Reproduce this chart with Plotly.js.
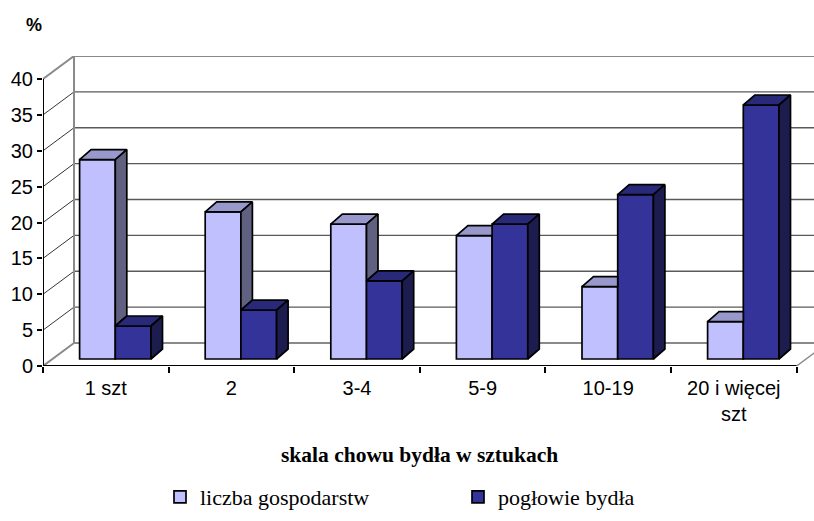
<!DOCTYPE html>
<html>
<head>
<meta charset="utf-8">
<script src="https://cdn.plot.ly/plotly-3.0.1.min.js"></script>
<style>html,body{margin:0;padding:0;background:#fff;}#chart{width:814px;height:521px;}</style>
</head>
<body>
<div id="chart"></div>
<script>
// ---- data ----
const categories = ['1 szt', '2', '3-4', '5-9', '10-19', '20 i więcej<br>szt'];
const liczbaGospodarstw = [27.8, 20.5, 18.8, 17.2, 10.1, 5.2];
const poglowieBydla = [4.6, 6.8, 10.9, 18.8, 22.9, 35.4];
const yTickVals = [0, 5, 10, 15, 20, 25, 30, 35, 40];
const seriesNames = ['liczba gospodarstw', 'pogłowie bydła'];

// ---- geometry (pixel scale of the axes) ----
const W = 814, H = 521;
const mL = 43, mR = 0, mT = 56, mB = 155;
const pxPerCat = 125.6, pxPerUnit = 7.175;
const plotW = W - mL - mR, plotH = H - mT - mB;
const xRange = [-0.5, -0.5 + plotW / pxPerCat];
const yRange = [0, plotH / pxPerUnit];
const ux = px => px / pxPerCat, uy = px => px / pxPerUnit;

const wallDx = ux(31), wallDy = uy(23);     // back wall offset
const barShift = ux(9.5), barBase = uy(7);  // bar plane offset
const barW = ux(35.7);
const depthDx = ux(11.5), depthDy = uy(10); // bar depth
const idx = categories.map((c, i) => i);
const xs = idx.map(i => i + barShift);

const colors = {
  light: {front: '#C0C0FF', top: '#9898CC', side: '#606080'},
  dark:  {front: '#333399', top: '#29297A', side: '#1C1C4E'}
};
const edge = {color: '#000', width: 1.7};
const SANS = 'Arial, Liberation Sans, sans-serif';
const SERIF = 'Liberation Serif, Times New Roman, serif';

// faces
const lightTop = {x: [], y: []}, lightSide = {x: [], y: []};
const darkTop = {x: [], y: []}, darkSide = {x: [], y: []};
function poly(o, pts) { pts.forEach(p => { o.x.push(p[0]); o.y.push(p[1]); }); o.x.push(pts[0][0]); o.y.push(pts[0][1]); o.x.push(null); o.y.push(null); }
idx.forEach(i => {
  const xl = xs[i] - barW, xm = xs[i], xr = xs[i] + barW;
  const L = barBase + liczbaGospodarstw[i], D = barBase + poglowieBydla[i];
  if (D >= L) poly(lightTop, [[xl, L], [xm, L], [xm, L + depthDy], [xl + depthDx, L + depthDy]]);
  else poly(lightTop, [[xl, L], [xm, L], [xm + depthDx, L + depthDy], [xl + depthDx, L + depthDy]]);
  if (L > D) poly(lightSide, [[xm, D], [xm, L], [xm + depthDx, L + depthDy], [xm + depthDx, D + depthDy]]);
  poly(darkTop, [[xm, D], [xr, D], [xr + depthDx, D + depthDy], [xm + depthDx, D + depthDy]]);
  poly(darkSide, [[xr, barBase], [xr, D], [xr + depthDx, D + depthDy], [xr + depthDx, barBase + depthDy]]);
});
function faceTrace(o, color) {
  return {type: 'scatter', mode: 'lines', x: o.x, y: o.y, fill: 'toself', fillcolor: color,
    line: edge, showlegend: false, hoverinfo: 'skip'};
}

const traces = [
  {type: 'bar', name: seriesNames[0], x: xs, y: liczbaGospodarstw, base: barBase, width: barW, offset: -barW,
   marker: {color: colors.light.front, line: edge}, hoverinfo: 'skip'},
  {type: 'bar', name: seriesNames[1], x: xs, y: poglowieBydla, base: barBase, width: barW, offset: 0,
   marker: {color: colors.dark.front, line: edge}, hoverinfo: 'skip'},
  faceTrace(lightTop, colors.light.top),
  faceTrace(lightSide, colors.light.side),
  faceTrace(darkTop, colors.dark.top),
  faceTrace(darkSide, colors.dark.side),
  {type: 'scatter', x: [null], y: [null], xaxis: 'x2', showlegend: false, hoverinfo: 'skip'}
];

// ---- walls & grid (shapes from tick values) ----
const shapes = [];
const x0 = xRange[0];
yTickVals.forEach(v => {
  const edgeLine = (v === 0 || v === yTickVals[yTickVals.length - 1]);
  shapes.push({type: 'line', xref: 'x', yref: 'y', layer: 'below',
    x0: x0 + wallDx, x1: xRange[1] + 1, y0: v + wallDy, y1: v + wallDy,
    line: {color: edgeLine ? '#8a8a8a' : '#5a5a5a', width: edgeLine ? 2 : 1.3}});
  shapes.push({type: 'line', xref: 'x', yref: 'y', layer: 'below',
    x0: x0, x1: x0 + wallDx, y0: v, y1: v + wallDy,
    line: {color: edgeLine ? '#8a8a8a' : '#000', width: edgeLine ? 2 : 0.8}});
});
const yMax = yTickVals[yTickVals.length - 1];
shapes.push({type: 'line', xref: 'x', yref: 'y', layer: 'below', x0: x0 + wallDx, x1: x0 + wallDx, y0: wallDy, y1: yMax + wallDy, line: {color: '#8a8a8a', width: 2}});
const xEnd = categories.length - 0.5;
shapes.push({type: 'line', xref: 'x', yref: 'y', layer: 'below', x0: xEnd, x1: xEnd + wallDx, y0: 0, y1: wallDy, line: {color: '#8a8a8a', width: 1.5}});
shapes.push({type: 'line', xref: 'x', yref: 'y', x0: x0, x1: x0, y0: 0, y1: yMax, line: {color: '#000', width: 2}});
shapes.push({type: 'line', xref: 'x', yref: 'y', x0: x0, x1: xEnd, y0: 0, y1: 0, line: {color: '#000', width: 2}});

const boundaries = categories.map((c, i) => i - 0.5).concat([xEnd]);

const layout = {
  width: W, height: H,
  margin: {l: mL, r: mR, t: mT, b: mB, pad: 0},
  paper_bgcolor: '#fff', plot_bgcolor: 'rgba(0,0,0,0)',
  barmode: 'overlay',
  hovermode: false,
  showlegend: true,
  xaxis: {range: xRange, tickvals: idx, ticktext: categories, ticks: '', showgrid: false, zeroline: false,
          showline: false, automargin: false, fixedrange: true, ticklabelstandoff: 8,
          tickfont: {family: SANS, size: 20, color: '#000'}},
  xaxis2: {range: xRange, overlaying: 'x', anchor: 'y', side: 'bottom', tickvals: boundaries,
           ticktext: boundaries.map(() => ''), ticks: 'outside', ticklen: 6, tickwidth: 2, tickcolor: '#000',
           showgrid: false, zeroline: false, showline: false, automargin: false, fixedrange: true},
  yaxis: {range: yRange, tickvals: yTickVals, ticks: 'outside', ticklen: 5, tickwidth: 2, tickcolor: '#000',
          showgrid: false, zeroline: false, showline: false, automargin: false, fixedrange: true,
          tickfont: {family: SANS, size: 20, color: '#000'}},
  legend: {orientation: 'h', x: (160 - mL) / plotW, xanchor: 'left', y: -0.4226, yanchor: 'middle',
           font: {family: SERIF, size: 22, color: '#000'},
           entrywidth: 253, entrywidthmode: 'pixels', bgcolor: 'rgba(0,0,0,0)'},
  shapes: shapes,
  annotations: [
    {text: '<b>%</b>', xref: 'paper', yref: 'paper', x: (34 - mL) / plotW, y: (H - mB - 25) / plotH,
     xanchor: 'center', yanchor: 'middle', showarrow: false,
     font: {family: SANS, size: 18, color: '#000'}},
    {text: '<b>skala chowu bydła w sztukach</b>', xref: 'paper', yref: 'paper', x: (419 - mL) / plotW,
     y: (H - mB - 455) / plotH, xanchor: 'center', yanchor: 'middle', showarrow: false,
     font: {family: SERIF, size: 21.5, color: '#000'}}
  ]
};

Plotly.newPlot('chart', traces, layout, {staticPlot: true, displayModeBar: false});
</script>
</body>
</html>
